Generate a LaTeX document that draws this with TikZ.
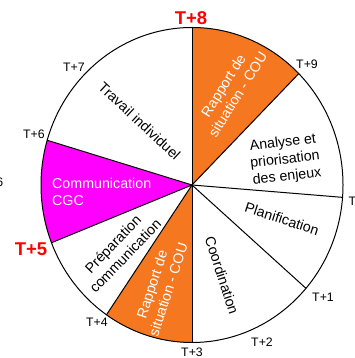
\documentclass[tikz,border=0pt]{standalone}
\usepackage{fontspec}
\setmainfont{Liberation Sans}
\usetikzlibrary{calc}
\definecolor{cycleorange}{RGB}{245,120,32}
\definecolor{cyclemagenta}{RGB}{255,0,255}
\definecolor{mark}{RGB}{255,0,0}
\begin{document}
\begin{tikzpicture}[x=1pt,y=1pt,
  seg/.style={draw=black,line width=1pt},
  phase/.style={font=\fontsize{14.25}{17}\selectfont,align=center,inner sep=0pt},
  phasewhite/.style={phase,text=white},
  tick/.style={font=\fontsize{12.3}{14}\selectfont,inner sep=0pt},
  keytick/.style={font=\bfseries\fontsize{18.5}{20}\selectfont,text=mark,inner sep=0pt},
]
\useasboundingbox (0,0) rectangle (354,358);
\clip (0,0) rectangle (354,358);

% centre and radii of the dial
\coordinate (c) at (192,173);
\def\rx{151}
\def\ry{157.5}

% coloured sectors
\fill[cycleorange] (c) -- ($(c)+(45:\rx\space and \ry)$)
  arc[start angle=45,end angle=90,x radius=\rx,y radius=\ry] -- cycle;
\fill[cycleorange] (c) -- ($(c)+(235.5:\rx\space and \ry)$)
  arc[start angle=235.5,end angle=270,x radius=\rx,y radius=\ry] -- cycle;
\fill[cyclemagenta] (c) -- ($(c)+(163.5:\rx\space and \ry)$)
  arc[start angle=163.5,end angle=201.5,x radius=\rx,y radius=\ry] -- cycle;

% sector boundaries
\foreach \a in {90,45,-4.5,-41,-90,235.5,201.5,163.5}
  \draw[seg] (c) -- ($(c)+(\a:\rx\space and \ry)$);

% outline
\draw[seg] (c) ellipse[x radius=\rx,y radius=\ry];

% sector texts
\node[phase,rotate=-43] (travail) at (139.5,237) {Travail individuel};
\node[phasewhite,rotate=58] (rapporthaut) at (230.5,268) {Rapport de\\situation - COU};
\node[phase,rotate=7] (analyse) at (285,198) {Analyse et\\priorisation\\des enjeux};
\node[phase,rotate=-18] (planif) at (282,139) {Planification};
\node[phase,rotate=-72] (coord) at (222,82.5) {Coordination};
\node[phasewhite,rotate=72] (rapportbas) at (160,71) {Rapport de\\situation - COU};
\node[phase,rotate=46] (prep) at (119,108) {Préparation\\communication};
\node[phasewhite,align=left,anchor=west] (comm) at (52,166) {Communication\\CGC};

% time marks around the dial
\node[keytick] (t8) at (191,339.5) {T+8};
\node[keytick] (t5) at (31,109) {T+5};
\node[tick] (t9) at (307,294) {T+9};
\node[tick] (t7) at (74,291) {T+7};
\node[tick] (t6) at (34,224) {T+6};
\node[tick] (t4) at (97,36) {T+4};
\node[tick] (t3) at (192,6) {T+3};
\node[tick] (t2) at (262,16) {T+2};
\node[tick] (t1) at (323,61) {T+1};
\node[tick,anchor=west] (t0) at (348.5,157) {T};
\node[tick,anchor=east] (tleft) at (3.5,175.5) {6};
\end{tikzpicture}
\end{document}
